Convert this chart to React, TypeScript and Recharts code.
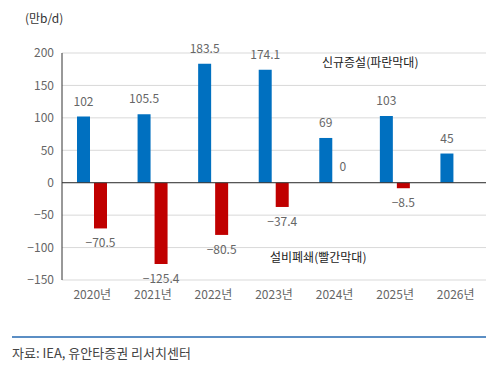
import { Bar, BarChart, CartesianGrid, Cell, LabelList, ReferenceLine, XAxis, YAxis } from 'recharts'

const years = ['2020년', '2021년', '2022년', '2023년', '2024년', '2025년', '2026년']
const additions = [102, 105.5, 183.5, 174.1, 69, 103, 45]
const closures: (number | null)[] = [-70.5, -125.4, -80.5, -37.4, 0, -8.5, null]
const yTicks = [-150, -100, -50, 0, 50, 100, 150, 200]

const rows = years.map((year, i) => ({ year, add: additions[i], close: closures[i] }))

const font = '"Noto Sans CJK KR", "Noto Sans", sans-serif'
const tickStyle = { fontSize: 12, fill: '#666', fontFamily: font }

const fmt = (v: number) => String(v).replace('-', '−')

function ValueLabel(props: any) {
  const { x, y, width, height, value } = props
  if (value == null) return null
  const top = Math.min(y, y + height)
  const bottom = Math.max(y, y + height)
  const ty = value < 0 ? bottom + 19 : top - 11
  return (
    <text
      x={x + width / 2}
      y={ty}
      textAnchor="middle"
      fontSize={12}
      fill="#666"
      fontFamily={font}
    >
      {fmt(value)}
    </text>
  )
}

export default function App() {
  return (
    <div
      style={{
        position: 'absolute',
        left: 0,
        top: 0,
        width: 486,
        height: 372,
        background: '#fff',
        fontFamily: font,
      }}
    >
      <div style={{ position: 'absolute', left: 25, top: 9, fontSize: 12, color: '#333' }}>(만b/d)</div>
      <BarChart
        width={486}
        height={310}
        data={rows}
        margin={{ top: 53, right: 0, bottom: 0, left: 0 }}
        barSize={13}
        barGap={4}
      >
        <CartesianGrid vertical={false} stroke="#d9d9d9" />
        <XAxis
          dataKey="year"
          axisLine={false}
          tickLine={false}
          tick={tickStyle}
          height={30}
          tickMargin={4}
          interval={0}
        />
        <YAxis
          domain={[-150, 200]}
          ticks={yTicks}
          tickFormatter={fmt}
          axisLine={{ stroke: '#333' }}
          tickLine={false}
          tick={tickStyle}
          width={62}
          interval={0}
        />
        <Bar dataKey="add" fill="#0070C0" isAnimationActive={false}>
          <LabelList dataKey="add" content={ValueLabel} />
        </Bar>
        <Bar
          dataKey="close"
          fill="#C00000"
          isAnimationActive={false}
          minPointSize={(v: any) => (v === 0 ? 1 : 0)}
        >
          {rows.map((r) => (
            <Cell key={r.year} fillOpacity={r.close === 0 ? 0 : 1} />
          ))}
          <LabelList dataKey="close" content={ValueLabel} />
        </Bar>
        <ReferenceLine y={0} stroke="#333" />
      </BarChart>
      <div style={{ position: 'absolute', left: 322, top: 53, fontSize: 12, color: '#222' }}>
        신규증설(파란막대)
      </div>
      <div style={{ position: 'absolute', left: 270, top: 248, fontSize: 12, color: '#222' }}>
        설비폐쇄(빨간막대)
      </div>
      <div
        style={{
          position: 'absolute',
          left: 12,
          top: 336,
          width: 474,
          height: 2,
          background: '#5b8ec4',
        }}
      />
      <div style={{ position: 'absolute', left: 12, top: 343, fontSize: 13, color: '#444' }}>
        자료: IEA, 유안타증권 리서치센터
      </div>
    </div>
  )
}
